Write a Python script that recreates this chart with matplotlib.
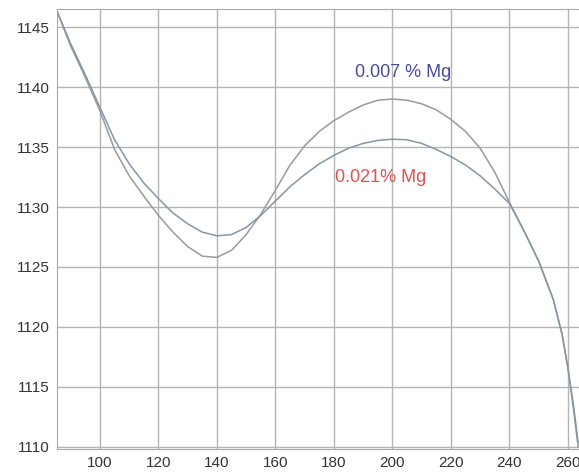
import matplotlib.pyplot as plt

# temperature-like x axis and density-like y values
x = [85, 90, 95, 100, 105, 110, 115, 120, 125, 130, 135, 140, 145, 150, 155,
     160, 165, 170, 175, 180, 185, 190, 195, 200, 205, 210, 215, 220, 225,
     230, 235, 240, 245, 250, 255, 258, 260, 262, 263.5]

mg_007 = [1146.5, 1143.4, 1140.8, 1138.0, 1134.8, 1132.6, 1130.9, 1129.3,
          1127.9, 1126.7, 1125.9, 1125.8, 1126.4, 1127.7, 1129.4, 1131.4,
          1133.5, 1135.1, 1136.3, 1137.2, 1137.9, 1138.5, 1138.9, 1139.0,
          1138.9, 1138.6, 1138.1, 1137.3, 1136.3, 1134.9, 1132.9, 1130.4,
          1128.0, 1125.5, 1122.3, 1119.4, 1116.6, 1113.0, 1110.0]

mg_021 = [1146.5, 1143.6, 1141.0, 1138.3, 1135.6, 1133.6, 1132.0, 1130.7,
          1129.5, 1128.6, 1127.9, 1127.6, 1127.7, 1128.3, 1129.3, 1130.5,
          1131.7, 1132.7, 1133.6, 1134.3, 1134.9, 1135.3, 1135.55, 1135.65,
          1135.6, 1135.3, 1134.8, 1134.2, 1133.5, 1132.6, 1131.5, 1130.3,
          1128.0, 1125.5, 1122.3, 1119.4, 1116.6, 1113.3, 1110.4]

xticks = [100, 120, 140, 160, 180, 200, 220, 240, 260]
yticks = [1110, 1115, 1120, 1125, 1130, 1135, 1140, 1145]

plt.rcParams['font.family'] = ['Liberation Sans', 'DejaVu Sans']

fig = plt.figure(figsize=(5.79, 4.75), dpi=100)
ax = fig.add_axes([0.0984, 0.0547, 0.9016, 0.9263])

ax.plot(x, mg_007, color='#9a9a9a', lw=1.1)
ax.plot(x, mg_021, color='#8596a6', lw=1.1)

ax.text(203.6, 1141.25, '0.007 % Mg', color='#4b4b9c', fontsize=13,
        ha='center', va='center')
ax.text(196, 1132.5, '0.021% Mg', color='#e0504c', fontsize=13,
        ha='center', va='center')

ax.set_xlim(85.3, 263.8)
ax.set_ylim(1109.83, 1146.5)
ax.set_xticks(xticks)
ax.set_yticks(yticks)
ax.grid(True, color='#b4b4b4', lw=1)
ax.set_axisbelow(True)
ax.tick_params(length=0, labelsize=11, colors='#333333', pad=5)
for side in ['left', 'bottom', 'top']:
    ax.spines[side].set_color('#a8a8a8')
ax.spines['right'].set_visible(False)

fig.savefig('out.png', dpi=100)
